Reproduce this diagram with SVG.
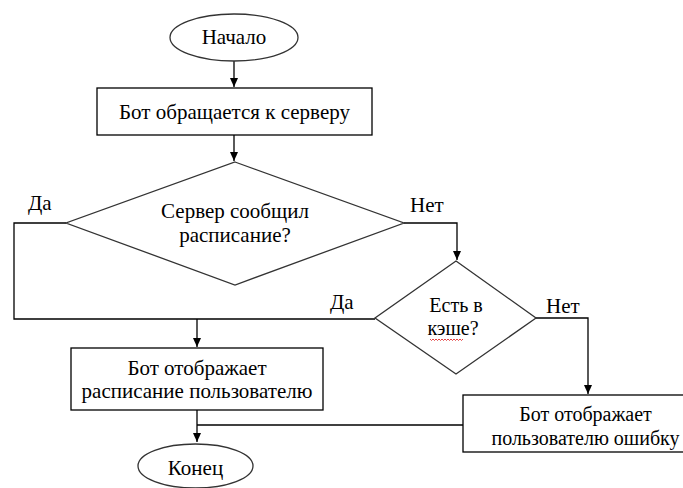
<svg xmlns="http://www.w3.org/2000/svg" width="683" height="488" viewBox="0 0 683 488">
<defs>
<marker id="ah" markerWidth="10" markerHeight="10" refX="9" refY="4" orient="auto" markerUnits="userSpaceOnUse">
<path d="M0,0 L9,4 L0,8 Z" fill="#000"/>
</marker>
<style>
.shape{fill:#fff;stroke:#333;stroke-width:1.3}
.box{fill:#fff;stroke:#000;stroke-width:1.3}
.line{fill:none;stroke:#000;stroke-width:1.3}
.arr{fill:none;stroke:#000;stroke-width:1.3;marker-end:url(#ah)}
</style>
</defs>
<rect width="683" height="488" fill="#fff"/>
<g id="connectors">
<path class="arr" d="M234,61 V87"/>
<path class="arr" d="M234,135 V161"/>
<path class="line" d="M66,223 H14 V319 H375"/>
<path class="arr" d="M197,319 V347"/>
<path class="arr" d="M404,223 H457 V260"/>
<path class="arr" d="M536,318 H588 V394"/>
<path class="arr" d="M197,410 V442"/>
<path class="line" d="M463,425 H197"/>
</g>
<g id="start">
<ellipse class="shape" cx="234" cy="37.5" rx="64" ry="23.5"/>
<text x="234" y="44" style="font-family:'Liberation Serif',serif;font-size:21px;text-anchor:middle">Начало</text>
</g>
<g id="request">
<rect class="box" x="97" y="88" width="275" height="47"/>
<text x="234.5" y="119" style="font-family:'Liberation Serif',serif;font-size:21px;text-anchor:middle">Бот обращается к серверу</text>
</g>
<g id="decision1">
<polygon class="shape" points="235,162 404,223 235,285 66,223"/>
<text x="235" y="218" style="font-family:'Liberation Serif',serif;font-size:21px;text-anchor:middle">Сервер сообщил</text>
<text x="235" y="242" style="font-family:'Liberation Serif',serif;font-size:21px;text-anchor:middle">расписание?</text>
</g>
<g id="label-yes1"><text x="28" y="210" style="font-family:'Liberation Serif',serif;font-size:21px">Да</text></g>
<g id="label-no1"><text x="410" y="212" style="font-family:'Liberation Serif',serif;font-size:21px">Нет</text></g>
<g id="decision2">
<polygon class="shape" points="456,261 536,318 456,374 375,318"/>
<text x="456" y="312" style="font-family:'Liberation Serif',serif;font-size:20px;text-anchor:middle">Есть в</text>
<text x="453" y="335" style="font-family:'Liberation Serif',serif;font-size:20px;text-anchor:middle">кэше?</text>
<path d="M430,339 l1.5,1.5 l1.5,-1.5 l1.5,1.5 l1.5,-1.5 l1.5,1.5 l1.5,-1.5 l1.5,1.5 l1.5,-1.5 l1.5,1.5 l1.5,-1.5 l1.5,1.5 l1.5,-1.5 l1.5,1.5 l1.5,-1.5 l1.5,1.5 l1.5,-1.5 l1.5,1.5 l1.5,-1.5 l1.5,1.5 l1.5,-1.5 l1.5,1.5 l1.5,-1.5" fill="none" stroke="#e03030" stroke-width="0.9"/>
</g>
<g id="label-yes2"><text x="330" y="309" style="font-family:'Liberation Serif',serif;font-size:21px">Да</text></g>
<g id="label-no2"><text x="546" y="313" style="font-family:'Liberation Serif',serif;font-size:21px">Нет</text></g>
<g id="show-schedule">
<rect class="box" x="71" y="348" width="252" height="62"/>
<text x="197" y="375" style="font-family:'Liberation Serif',serif;font-size:21px;text-anchor:middle">Бот отображает</text>
<text x="197" y="398" style="font-family:'Liberation Serif',serif;font-size:21px;text-anchor:middle">расписание пользователю</text>
</g>
<g id="show-error">
<rect class="box" x="463" y="395" width="245" height="57"/>
<text x="585.5" y="421" style="font-family:'Liberation Serif',serif;font-size:20px;text-anchor:middle">Бот отображает</text>
<text x="585.5" y="445" style="font-family:'Liberation Serif',serif;font-size:20px;text-anchor:middle">пользователю ошибку</text>
</g>
<g id="end">
<ellipse class="shape" cx="195.5" cy="466" rx="57.5" ry="22"/>
<text x="195.5" y="475" style="font-family:'Liberation Serif',serif;font-size:21px;text-anchor:middle">Конец</text>
</g>
</svg>
